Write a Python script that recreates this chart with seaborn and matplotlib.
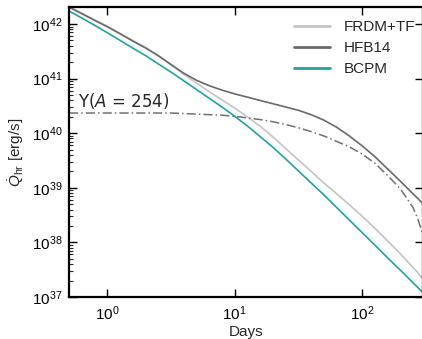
import numpy as np
import pandas as pd
import matplotlib
matplotlib.use("Agg")
import matplotlib.pyplot as plt
import seaborn as sns
from matplotlib.ticker import LogLocator, NullLocator, LogFormatterSciNotation

# time since merger (days)
days = [0.5, 0.63, 0.79, 1.0, 1.26, 1.58, 2.0, 2.51, 3.16, 3.98, 5.01, 6.31, 7.94,
        10.0, 12.6, 15.8, 20.0, 25.1, 31.6, 39.8, 50.1, 63.1, 79.4, 100.0, 126.0,
        158.0, 200.0, 251.0, 275.0, 300.0]

# log10 of heating rate [erg/s] for each mass model
log_frdm = [42.32, 42.20, 42.08, 41.96, 41.83, 41.70, 41.57, 41.42, 41.25, 41.08,
            40.92, 40.76, 40.61, 40.46, 40.30, 40.13, 39.93, 39.72, 39.51, 39.30,
            39.09, 38.89, 38.69, 38.48, 38.26, 38.03, 37.79, 37.54, 37.44, 37.33]
log_hfb = [42.31, 42.19, 42.07, 41.95, 41.82, 41.69, 41.56, 41.42, 41.26, 41.10,
           40.97, 40.87, 40.79, 40.72, 40.66, 40.60, 40.54, 40.48, 40.42, 40.34,
           40.24, 40.11, 39.95, 39.77, 39.57, 39.35, 39.12, 38.89, 38.80, 38.71]
log_bcpm = [42.24, 42.11, 41.98, 41.84, 41.70, 41.56, 41.42, 41.27, 41.12, 40.96,
            40.80, 40.64, 40.48, 40.31, 40.13, 39.94, 39.74, 39.53, 39.31, 39.09,
            38.87, 38.64, 38.41, 38.18, 37.95, 37.72, 37.49, 37.26, 37.17, 37.08]
# contribution of the A = 254 chain
log_a254 = [40.37, 40.37, 40.37, 40.37, 40.37, 40.37, 40.37, 40.37, 40.37, 40.36,
            40.35, 40.34, 40.33, 40.31, 40.28, 40.25, 40.21, 40.16, 40.10, 40.03,
            39.95, 39.85, 39.75, 39.62, 39.45, 39.23, 38.98, 38.64, 38.42, 38.14]

models = ["FRDM+TF", "HFB14", "BCPM"]
colors = ["#c4c4c4", "#6a6a6a", "#22a3a0"]

df = pd.concat([
    pd.DataFrame({"Days": days, "Q": 10.0 ** np.array(v), "model": m})
    for m, v in zip(models, [log_frdm, log_hfb, log_bcpm])
])
df_a = pd.DataFrame({"Days": days, "Q": 10.0 ** np.array(log_a254)})

sns.set_style("ticks")
plt.rcParams["font.family"] = ["Liberation Sans", "DejaVu Sans"]
plt.rcParams["mathtext.fontset"] = "custom"
plt.rcParams["mathtext.rm"] = "Liberation Sans"
plt.rcParams["mathtext.it"] = "Liberation Sans:italic"
plt.rcParams["mathtext.bf"] = "Liberation Sans:bold"

fig = plt.figure(figsize=(4.22, 3.39), dpi=100)
ax = fig.add_axes([0.1635, 0.124, 0.8385, 0.855])

sns.lineplot(data=df, x="Days", y="Q", hue="model", hue_order=models,
             palette=dict(zip(models, colors)), linewidth=1.2, ax=ax,
             estimator=None, sort=False)
sns.lineplot(data=df_a, x="Days", y="Q", color="#707070", linewidth=1.1,
             linestyle=(0, (6, 2, 1, 2)), ax=ax, legend=False, estimator=None)

ax.set_xscale("log")
ax.set_yscale("log")
ax.set_xlim(0.5, 300)
ax.set_ylim(1e37, 10 ** 42.31)

ax.xaxis.set_major_locator(LogLocator(base=10, numticks=10))
ax.xaxis.set_minor_locator(NullLocator())
ax.yaxis.set_major_locator(LogLocator(base=10, numticks=10))
ax.yaxis.set_minor_locator(LogLocator(base=10, subs=np.arange(2, 10), numticks=20))
ax.xaxis.set_major_formatter(LogFormatterSciNotation())
ax.yaxis.set_major_formatter(LogFormatterSciNotation())

ax.tick_params(which="major", direction="in", length=6, width=1.0,
               top=True, right=True, labelsize=11, colors="black", pad=5)
ax.tick_params(which="minor", direction="in", length=3, width=0.8,
               top=False, right=False)
ax.tick_params(axis="x", which="minor", bottom=False)

for s in ax.spines.values():
    s.set_linewidth(1.6)
    s.set_color("black")

ax.set_xlabel("Days", fontsize=11, labelpad=2)
ax.set_ylabel(r"$\dot{Q}_{\mathrm{hr}}$ [erg/s]", fontsize=11, labelpad=4)

ax.text(0.59, 10 ** 40.48, r"Y($A$ = 254)", fontsize=12, family="DejaVu Sans",
        math_fontfamily="dejavusans", va="baseline", ha="left")

leg = ax.legend(loc="upper left", bbox_to_anchor=(0.62, 0.975), frameon=False,
                fontsize=11, handlelength=2.3, handletextpad=0.9,
                labelspacing=0.45, borderaxespad=0)
for h in leg.get_lines():
    h.set_linewidth(2.0)

fig.savefig("out.png", dpi=100)
